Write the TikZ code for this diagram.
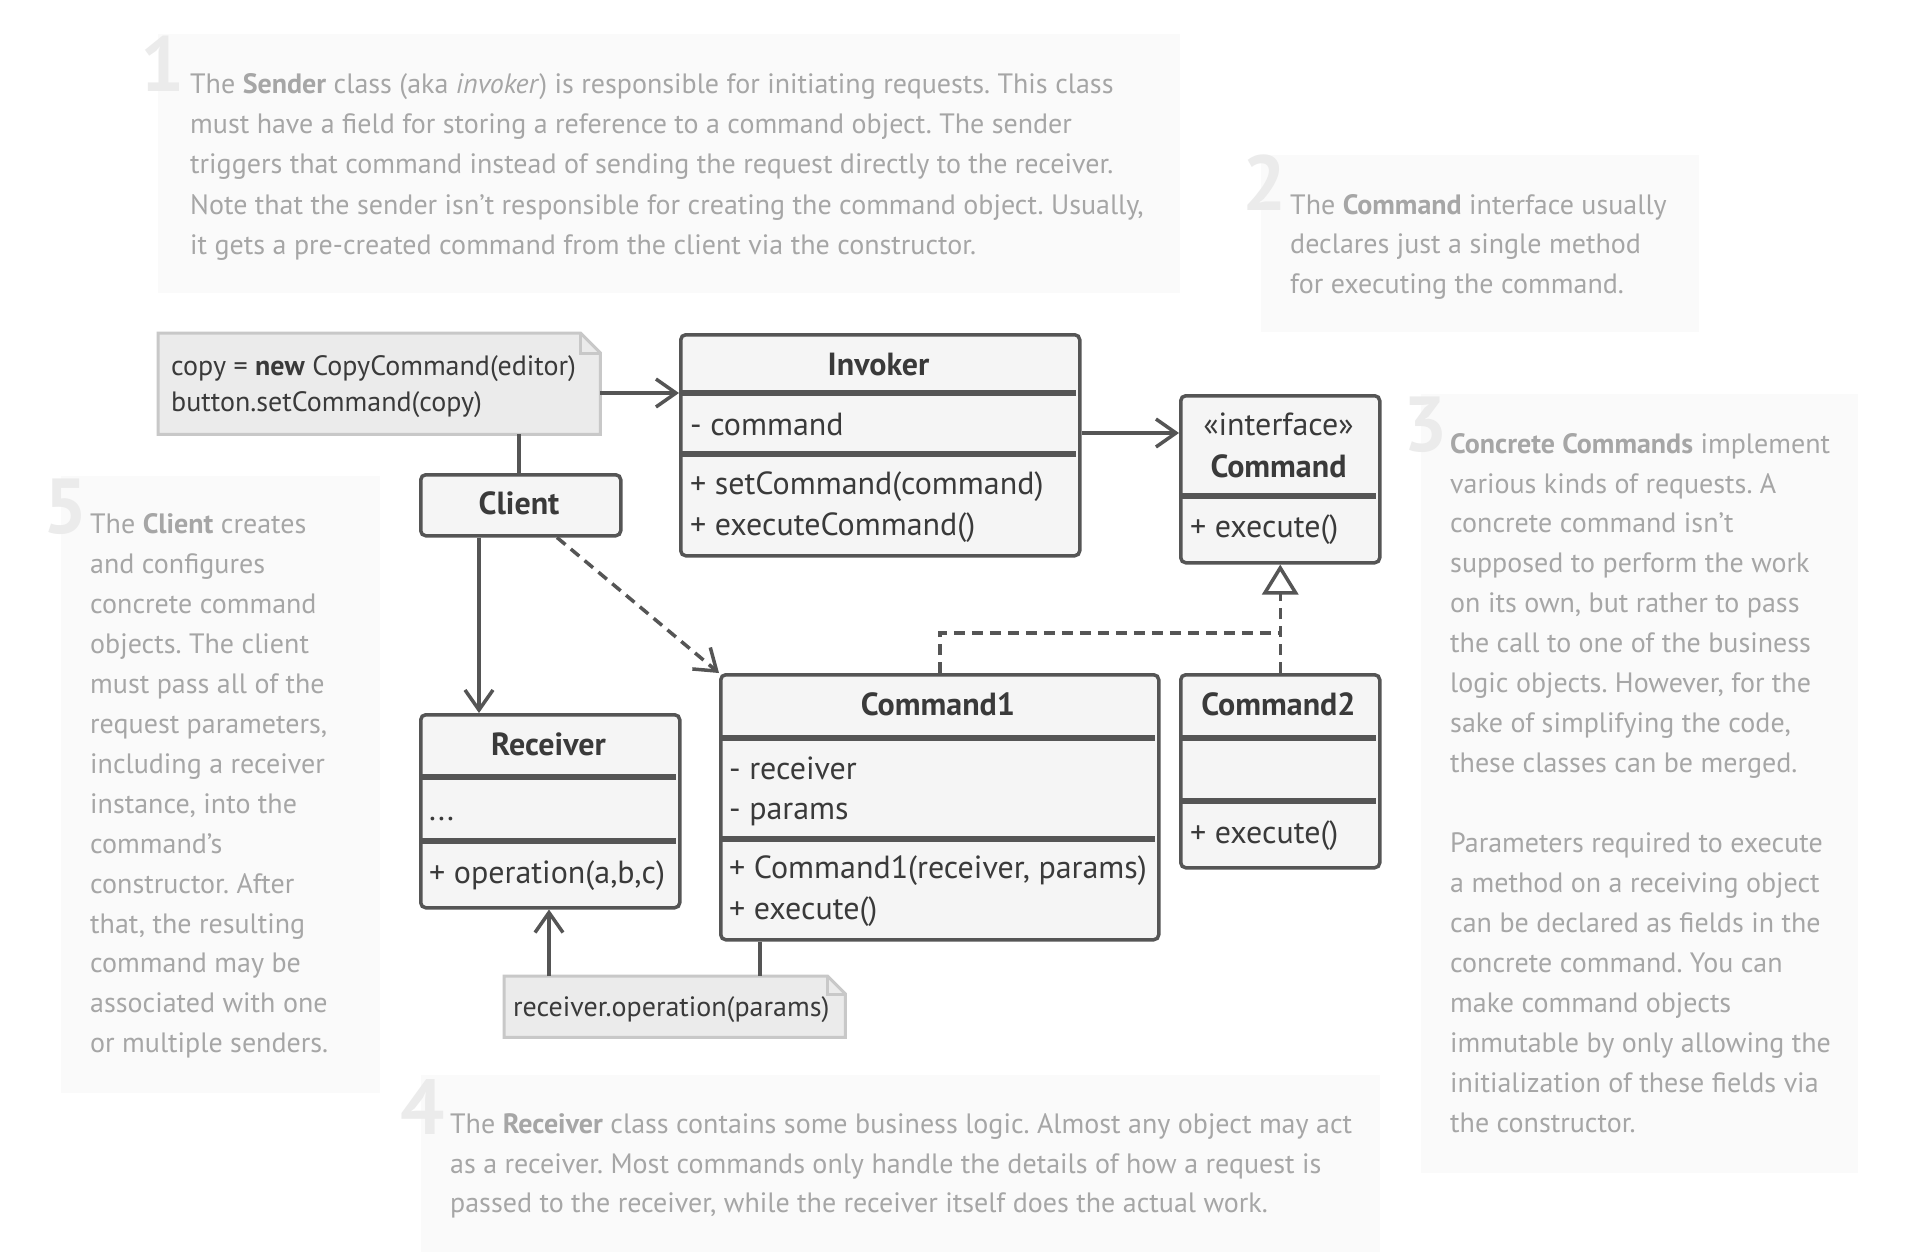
\documentclass[tikz,border=0pt]{standalone}
\usepackage{fontspec}
\setmainfont{PT Sans}
\usetikzlibrary{arrows.meta}
\frenchspacing

\definecolor{linec}{HTML}{555555}
\definecolor{boxfill}{HTML}{F5F5F5}
\definecolor{umltext}{HTML}{3A3A3A}
\definecolor{notefill}{HTML}{EBEBEB}
\definecolor{noteline}{HTML}{C8C8C8}
\definecolor{cardfill}{HTML}{FAFAFA}
\definecolor{cardtext}{HTML}{A6A6A6}
\definecolor{digit}{HTML}{EBEBEB}

\tikzset{
  classbox/.style={draw=linec, fill=boxfill, line width=3.5pt, rounded corners=5pt,
    rectangle, inner sep=0pt, anchor=north west},
  divider/.style={draw=linec, line width=6pt},
  member/.style={text=umltext, font=\fontsize{32}{40}\selectfont, inner sep=0pt,
    anchor=mid west, yshift=-7pt},
  codetxt/.style={member, font=\fontsize{28}{40}\selectfont},
  classname/.style={text=umltext, font=\fontsize{32}{40}\selectfont\bfseries, inner sep=0pt,
    anchor=mid, yshift=-8pt},
  codenote/.style={draw=noteline, fill=notefill, line width=3pt},
  card/.style={fill=cardfill, draw=none},
  cardtxt/.style={text=cardtext, font=\fontsize{28}{40}\selectfont, inner sep=0pt,
    anchor=mid west, yshift=-8pt},
  bignum/.style={text=digit, font=\fontsize{78}{78}\selectfont\bfseries, inner sep=0pt, anchor=base west},
  link/.style={draw=linec, line width=3.5pt},
  assoc/.style={link, -{Straight Barb[length=20pt, width=28pt, line width=3.5pt]}},
  depend/.style={assoc, dash pattern=on 11pt off 7pt},
  realize/.style={link, dash pattern=on 11pt off 7pt,
    -{Triangle[length=30pt, width=36pt, fill=white, line width=3.5pt]}},
}

\begin{document}
\begin{tikzpicture}[x=1pt, y=-1pt]
\useasboundingbox (0,0) rectangle (1912,1256);
\fill[white] (0,0) rectangle (1912,1256);

% ---------- explanation cards ----------
\fill[card] (158,34) rectangle (1180,293);
\fill[card] (1261,155) rectangle (1699,332);
\fill[card] (1421,394) rectangle (1858,1173);
\fill[card] (421,1075) rectangle (1380,1252);
\fill[card] (61,476) rectangle (380,1093);

\node[bignum] (num1) at (140,91) {1};
\node[bignum] (num2) at (1242,210) {2};
\node[bignum] (num3) at (1403,451) {3};
\node[bignum] (num4) at (400,1134) {4};
\node[bignum] (num5) at (43,533) {5};

\foreach \t [count=\i] in {
  {The \textbf{Sender} class (aka \textit{invoker}) is responsible for initiating requests. This class},
  {must have a field for storing a reference to a command object. The sender},
  {triggers that command instead of sending the request directly to the receiver.},
  {Note that the sender isn’t responsible for creating the command object. Usually,},
  {it gets a pre-created command from the client via the constructor.}}
  \node[cardtxt] (cardA\i) at (190, 83+40.2*\i-40.2) {\t};

\foreach \t [count=\i] in {
  {The \textbf{Command} interface usually},
  {declares just a single method},
  {for executing the command.}}
  \node[cardtxt] (cardB\i) at (1290, 203.6+39.7*\i-39.7) {\t};

\foreach \t [count=\i] in {
  {\textbf{Concrete Commands} implement},
  {various kinds of requests. A},
  {concrete command isn’t},
  {supposed to perform the work},
  {on its own, but rather to pass},
  {the call to one of the business},
  {logic objects. However, for the},
  {sake of simplifying the code,},
  {these classes can be merged.},
  {},
  {Parameters required to execute},
  {a method on a receiving object},
  {can be declared as fields in the},
  {concrete command. You can},
  {make command objects},
  {immutable by only allowing the},
  {initialization of these fields via},
  {the constructor.}}
  \node[cardtxt] (cardC\i) at (1450, 442.6+39.94*\i-39.94) {\t};

\foreach \t [count=\i] in {
  {The \textbf{Receiver} class contains some business logic. Almost any object may act},
  {as a receiver. Most commands only handle the details of how a request is},
  {passed to the receiver, while the receiver itself does the actual work.}}
  \node[cardtxt] (cardD\i) at (450, 1123+39.7*\i-39.7) {\t};

\foreach \t [count=\i] in {
  {The \textbf{Client} creates},
  {and configures},
  {concrete command},
  {objects. The client},
  {must pass all of the},
  {request parameters,},
  {including a receiver},
  {instance, into the},
  {command’s},
  {constructor. After},
  {that, the resulting},
  {command may be},
  {associated with one},
  {or multiple senders.}}
  \node[cardtxt] (cardE\i) at (90, 523.1+39.94*\i-39.94) {\t};

% ---------- code notes ----------
\node[inner sep=0pt, minimum width=442pt, minimum height=101pt, anchor=north west]
  (copynote) at (158,333) {};
\draw[codenote] (copynote.north west) -- ([xshift=-20pt]copynote.north east)
  -- ([yshift=-20pt]copynote.north east) -- (copynote.south east)
  -- (copynote.south west) -- cycle;
\draw[draw=noteline, line width=3pt] ([xshift=-20pt]copynote.north east)
  -- ([xshift=-20pt, yshift=-20pt]copynote.north east) -- ([yshift=-20pt]copynote.north east);
\node[codetxt] (copy1) at (171,366) {copy = \textbf{new} CopyCommand(editor)};
\node[codetxt] (copy2) at (171,402) {button.setCommand(copy)};

\node[inner sep=0pt, minimum width=341pt, minimum height=61pt, anchor=north west]
  (recvnote) at (504,976) {};
\draw[codenote] (recvnote.north west) -- ([xshift=-18pt]recvnote.north east)
  -- ([yshift=-18pt]recvnote.north east) -- (recvnote.south east)
  -- (recvnote.south west) -- cycle;
\draw[draw=noteline, line width=3pt] ([xshift=-18pt]recvnote.north east)
  -- ([xshift=-18pt, yshift=-18pt]recvnote.north east) -- ([yshift=-18pt]recvnote.north east);
\node[codetxt] (recvop) at (513,1007) {receiver.operation(params)};

% ---------- classes ----------
% Invoker
\node[classbox, minimum width=399pt, minimum height=221pt] (invoker) at (679,333) {};
\draw[divider] (681,393) -- (1076,393);
\draw[divider] (681,454) -- (1076,454);
\node[classname] (invokerT) at (878.5,365) {Invoker};
\node[member] (invokerA) at (690,425.6) {- command};
\node[member] (invokerM1) at (690,485.3) {+ setCommand(command)};
\node[member] (invokerM2) at (690,525.6) {+ executeCommand()};

% Command interface
\node[classbox, minimum width=199pt, minimum height=167pt] (command) at (1179,394) {};
\draw[divider] (1181,496) -- (1376,496);
\node[member, anchor=mid] (commandS) at (1278.5,425.6) {«interface»};
\node[classname] (commandT) at (1278.5,467) {Command};
\node[member] (commandM) at (1190,528) {+ execute()};

% Client
\node[classbox, minimum width=200pt, minimum height=61pt] (client) at (419,473) {};
\node[classname] (clientT) at (519,504) {Client};

% Receiver
\node[classbox, minimum width=259pt, minimum height=193pt] (receiver) at (419,713) {};
\draw[divider] (421,777) -- (676,777);
\draw[divider] (421,841) -- (676,841);
\node[classname] (receiverT) at (548.5,745) {Receiver};
\node[member] (receiverA) at (429,811) {...};
\node[member] (receiverM) at (429,874) {+ operation(a,b,c)};

% Command1
\node[classbox, minimum width=438pt, minimum height=265pt] (command1) at (719,673) {};
\draw[divider] (721,738) -- (1155,738);
\draw[divider] (721,839) -- (1155,839);
\node[classname] (command1T) at (938,705) {Command1};
\node[member] (command1A1) at (729,769.5) {- receiver};
\node[member] (command1A2) at (729,809.7) {- params};
\node[member] (command1M1) at (729,869.4) {+ Command1(receiver, params)};
\node[member] (command1M2) at (729,909.7) {+ execute()};

% Command2
\node[classbox, minimum width=199pt, minimum height=193pt] (command2) at (1179,673) {};
\draw[divider] (1181,738) -- (1376,738);
\draw[divider] (1181,801) -- (1376,801);
\node[classname] (command2T) at (1278.5,705) {Command2};
\node[member] (command2M) at (1190,834) {+ execute()};

% ---------- relations ----------
\coordinate (noteY) at (0,393);
\coordinate (invY) at (0,433);
\coordinate (clientX) at (519,0);
\coordinate (recvX) at (479,0);
\coordinate (depX) at (557,0);
\coordinate (opX) at (549,0);
\coordinate (c1X) at (760,0);
\coordinate (joinY) at (0,633);

\draw[assoc] (copynote.east |- noteY) -- (invoker.west |- noteY);
\draw[link] (copynote.south -| clientX) -- (client.north -| clientX);
\draw[assoc] (invoker.east |- invY) -- (command.west |- invY);
\draw[assoc] (client.south -| recvX) -- (receiver.north -| recvX);
\draw[depend] (client.south -| depX) -- (command1.north west);
\draw[link, dash pattern=on 11pt off 7pt] (command1.north) |- (command2.north |- joinY);
\draw[realize] (command2.north) -- (command.south);
\draw[link] (command1.south -| c1X) -- (recvnote.north -| c1X);
\draw[assoc] (recvnote.north -| opX) -- (receiver.south -| opX);

\end{tikzpicture}
\end{document}
